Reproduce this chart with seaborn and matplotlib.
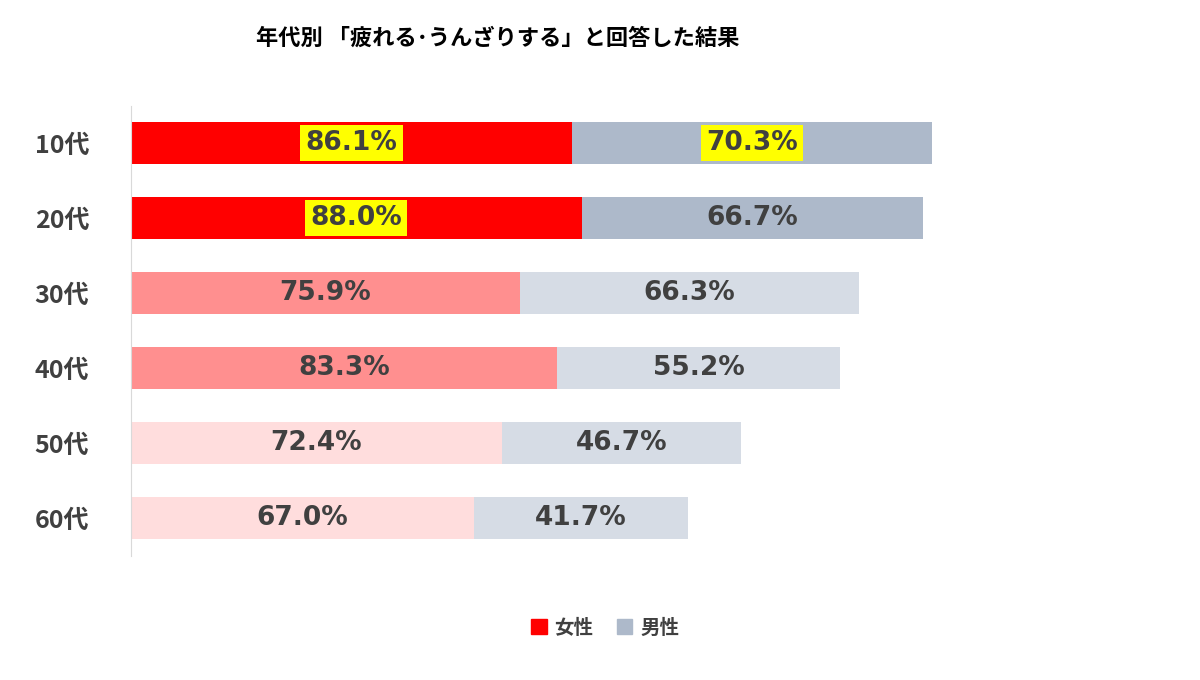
import matplotlib
matplotlib.use("Agg")
import matplotlib.pyplot as plt
import seaborn as sns
import pandas as pd
from matplotlib.patches import Patch

ages = ["10代", "20代", "30代", "40代", "50代", "60代"]
female = [86.1, 88.0, 75.9, 83.3, 72.4, 67.0]
male = [70.3, 66.7, 66.3, 55.2, 46.7, 41.7]
highlight_f = [True, True, False, False, False, False]
highlight_m = [True, False, False, False, False, False]
title = "年代別 「疲れる･うんざりする」と回答した結果"

fcol = ["#FF0000", "#FF0000", "#FF8F8F", "#FF8F8F", "#FFDDDD", "#FFDDDD"]
mcol = ["#ADB9CA", "#ADB9CA", "#D6DCE5", "#D6DCE5", "#D6DCE5", "#D6DCE5"]

plt.rcParams["font.family"] = ["Noto Sans CJK JP", "DejaVu Sans"]
df = pd.DataFrame({"age": ages, "female": female, "male": male})
df["total"] = df.female + df.male

fig = plt.figure(figsize=(12, 6.8), dpi=100)
ax = fig.add_axes([131/1200, 1-555.5/680, (1100-131)/1200, 450/680])
sns.barplot(data=df, y="age", x="total", hue="age", palette=mcol, width=0.56,
            legend=False, ax=ax, orient="h", saturation=1)
sns.barplot(data=df, y="age", x="female", hue="age", palette=fcol, width=0.56,
            legend=False, ax=ax, orient="h", saturation=1)
ax.set_xlim(0, (1100-131)/5.12)
ax.set_ylim(5.5, -0.5)
for i in range(len(ages)):
    for cx, v, hl in [(female[i]/2, female[i], highlight_f[i]),
                      (female[i] + male[i]/2, male[i], highlight_m[i])]:
        bbox = dict(boxstyle="square,pad=0.2", fc="#FFFF00", ec="none") if hl else None
        ax.text(cx, i, f"{v:.1f}%", ha="center", va="center", fontsize=19,
                fontweight="bold", color="#404040", bbox=bbox, family="DejaVu Sans")
ax.set_xlabel(""); ax.set_ylabel("")
ax.set_xticks([])
for s in ["top", "right", "bottom"]:
    ax.spines[s].set_visible(False)
ax.spines["left"].set_color("#D9D9D9")
ax.tick_params(axis="y", length=0, pad=30)
for t in ax.get_yticklabels():
    t.set_fontsize(18); t.set_fontweight("bold"); t.set_color("#404040")
fig.text(0.415, 1-38/680, title, ha="center", va="center", fontsize=16, fontweight="bold")
fig.legend(handles=[Patch(color="#FF0000", label="女性"), Patch(color="#ADB9CA", label="男性")],
           loc="center", bbox_to_anchor=(605/1200, 1-628/680), ncol=2, frameon=False,
           prop={"size": 14, "weight": "bold"}, handlelength=0.8, handleheight=0.8,
           columnspacing=1.2, handletextpad=0.4, labelcolor="#404040")
fig.savefig("out.png", dpi=100)
